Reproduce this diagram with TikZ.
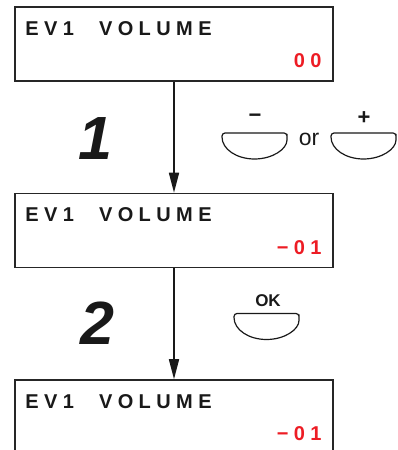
\documentclass[tikz,border=0pt]{standalone}
\usepackage{fontspec}
\setmainfont{Liberation Sans}
\newfontfamily\lcdfont[LetterSpace=27]{Liberation Sans}
\usepackage{xcolor}
\usetikzlibrary{arrows.meta}
\definecolor{lcdred}{RGB}{237,28,36}

\begin{document}
\begin{tikzpicture}[x = 1pt, y = 1pt,
        lcdbox/.style = {draw = black!85, line width = 1.5pt, minimum width = 318pt, minimum height = 74pt, inner sep = 0pt},
        lcdtext/.style = {font = \lcdfont\bfseries\fontsize{20}{20}\selectfont, text = black!90, inner sep = 0pt},
        lcdval/.style = {lcdtext, text = lcdred},
        stepnum/.style = {font = \bfseries\itshape\fontsize{61}{61}\selectfont, text = black!90, inner sep = 0pt},
        keylabel/.style = {font = \bfseries\fontsize{22}{22}\selectfont, text = black!90, inner sep = 0pt},
        keycap/.style = {draw = black!90, line width = 1.2pt},
        flow/.style = {draw = black!90, line width = 1.6pt, -{Triangle[length = 20pt, width = 10pt]}}]
        \useasboundingbox (0, 0) rectangle (398, 450);
        \clip (0, 0) rectangle (398, 450);

        \node [lcdbox] (lcdA) at (174, 406) {};
        \node [lcdbox] (lcdB) at (174, 219.5) {};
        \node [lcdbox] (lcdC) at (174, 33) {};

        \foreach \n in {lcdA, lcdB, lcdC}
        \node [lcdtext, anchor = base west] (\n title) at ([shift = {(11, -29)}]\n.north west) {EV1\hspace{25pt}VOLUME};

        \node [lcdval, anchor = base east] (valA) at ([shift = {(-12, -61)}]lcdA.north east) {00};
        \node [lcdval, anchor = base east] (valB) at ([shift = {(-12, -62)}]lcdB.north east) {−01};
        \node [lcdval, anchor = base east] (valC) at ([shift = {(-12, -61)}]lcdC.north east) {−01};

        \draw [flow] (lcdA.south) -- (lcdB.north);
        \draw [flow] (lcdB.south) -- (lcdC.north);

        \node [stepnum, anchor = base] (stepA) at (95, 290.7) {1};
        \node [stepnum, anchor = base] (stepB) at (97, 105) {2};

        \foreach \bx/\by in {254.5/317, 363.5/317, 266.5/136.5}
        \draw [keycap] (\bx - 32.5, \by - 4) [rounded corners = 3pt] -- (\bx - 32.5, \by) -- (\bx + 32.5, \by) -- (\bx + 32.5, \by - 4) [sharp corners] arc [start angle = 0, end angle = -180, x radius = 32.5, y radius = 22];

        \node [keylabel] (minusKey) at (255, 332) {−};
        \node [keylabel] (plusKey) at (364, 331.5) {+};
        \node [font = \fontsize{23}{23}\selectfont, text = black!90, inner sep = 0pt, anchor = base] (orText) at (309, 304.3) {or};
        \node [keylabel, font = \bfseries\fontsize{17}{17}\selectfont, anchor = base] (okKey) at (268, 143.3) {OK};
\end{tikzpicture}
\end{document}
